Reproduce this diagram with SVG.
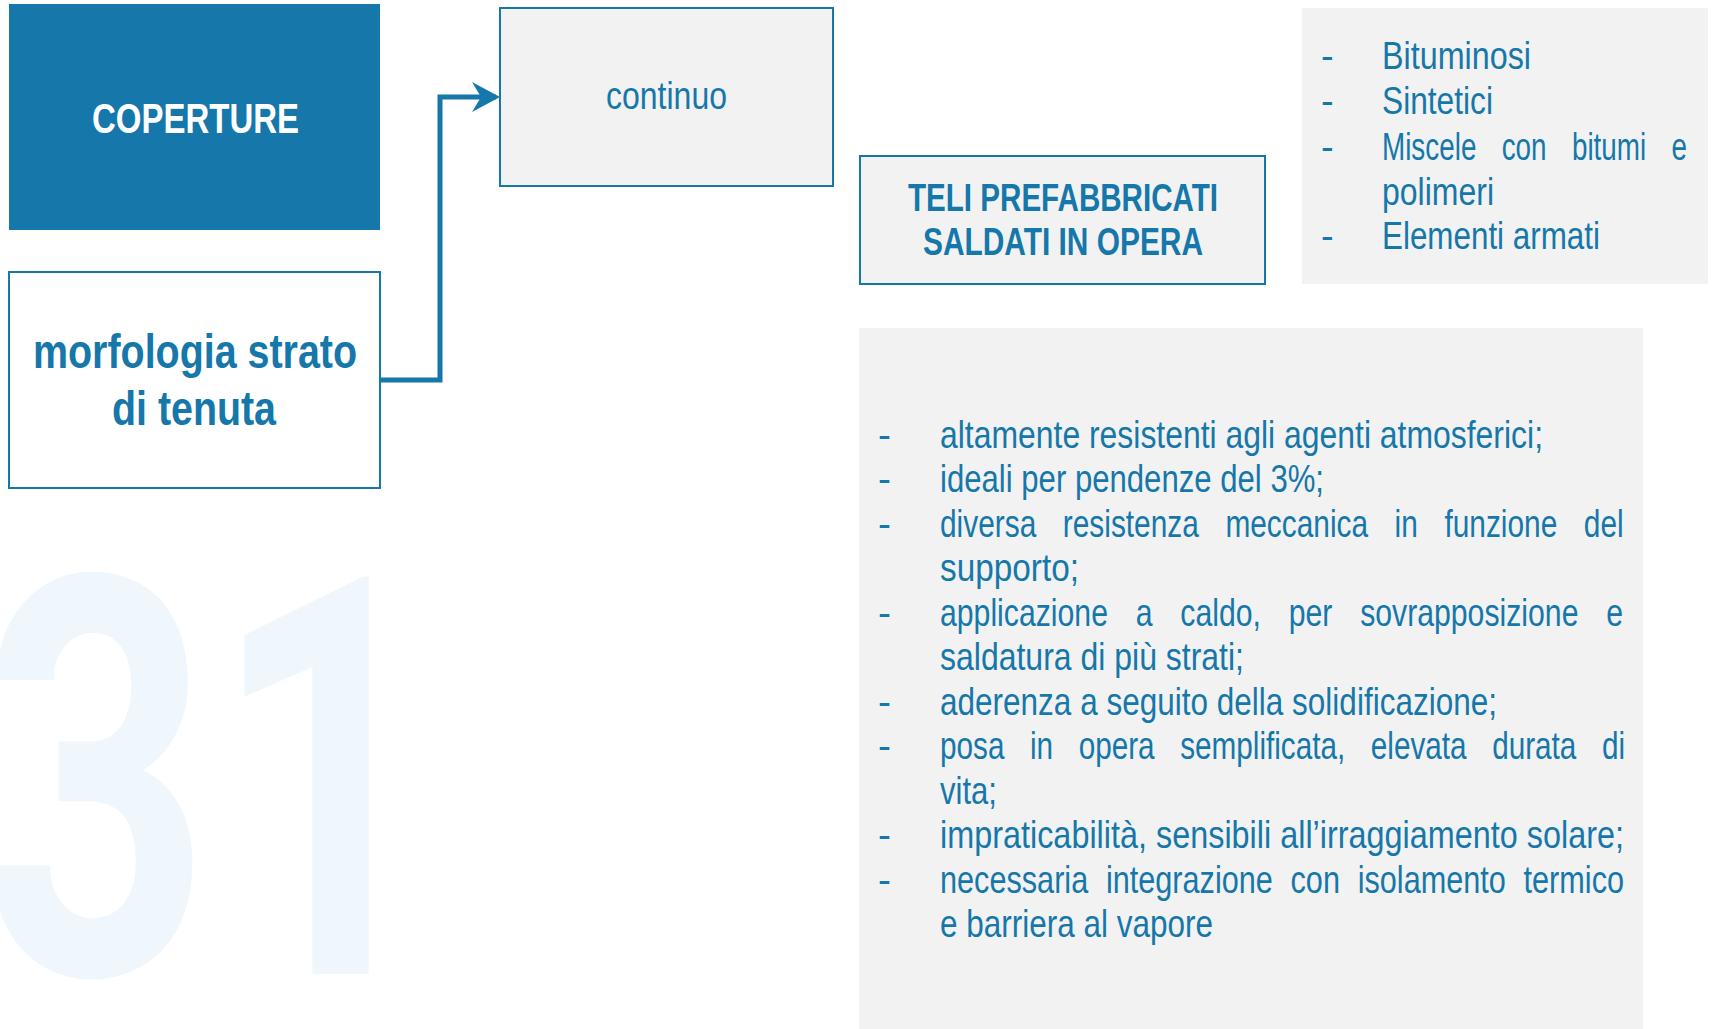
<svg xmlns="http://www.w3.org/2000/svg" width="1712" height="1029" viewBox="0 0 1712 1029">
  <style>
    .bg { fill: #ffffff; }
    .blue { fill: #1577AA; }
    .gray { fill: #F2F2F2; }
    .outl { stroke: #1577AA; stroke-width: 2; }
    .t { font-family: "Liberation Sans", Arial, sans-serif; fill: #1577AA; font-variant-ligatures: none; }
    .b { font-weight: bold; }
    .body { font-size: 39px; }
    .side { font-size: 38px; }
    .conn { fill: none; stroke: #1577AA; stroke-width: 5; }
    .wm { font-family: Roboto, "Liberation Sans", sans-serif; font-weight: bold; font-size: 558px; fill: #F0F7FC; }
  </style>
  <defs>
    <marker id="arrow" markerUnits="userSpaceOnUse" markerWidth="30" markerHeight="32" viewBox="0 0 30 32" refX="24" refY="15" orient="auto">
      <path d="M0,0 L28,15 L0,30 L9,15 Z" fill="#1577AA"/>
    </marker>
  </defs>
  <rect class="bg" x="0" y="0" width="1712" height="1029"/>

  <text class="wm" transform="translate(-19,974) scale(0.72,1)" x="0" y="0">31</text>

  <g id="node-coperture">
    <rect class="blue" x="9" y="4" width="371" height="226"/>
    <text class="t b" x="92" y="133" font-size="43" style="fill:#ffffff" textLength="207" lengthAdjust="spacingAndGlyphs">COPERTURE</text>
  </g>

  <g id="node-morfologia">
    <rect x="9" y="272" width="371" height="216" fill="#ffffff" class="outl"/>
    <text class="t b" x="33" y="368" font-size="48" textLength="324" lengthAdjust="spacingAndGlyphs">morfologia strato</text>
    <text class="t b" x="112" y="425" font-size="48" textLength="164" lengthAdjust="spacingAndGlyphs">di tenuta</text>
  </g>

  <g id="node-continuo">
    <rect class="gray outl" x="500" y="8" width="333" height="178"/>
    <text class="t" x="606" y="109" font-size="39" textLength="121" lengthAdjust="spacingAndGlyphs">continuo</text>
  </g>

  <g id="node-teli">
    <rect class="gray outl" x="860" y="156" width="405" height="128" stroke-width="2.5"/>
    <text class="t b" x="908" y="211" font-size="39" textLength="310" lengthAdjust="spacingAndGlyphs">TELI PREFABBRICATI</text>
    <text class="t b" x="923" y="255" font-size="39" textLength="280" lengthAdjust="spacingAndGlyphs">SALDATI IN OPERA</text>
  </g>

  <g id="node-tipi">
    <rect class="gray" x="1302" y="8" width="406" height="276"/>
    <text class="t side" x="1321" y="69">-</text>
    <text class="t side" x="1382" y="69" textLength="149" lengthAdjust="spacingAndGlyphs">Bituminosi</text>
    <text class="t side" x="1321" y="114">-</text>
    <text class="t side" x="1382" y="114" textLength="111" lengthAdjust="spacingAndGlyphs">Sintetici</text>
    <text class="t side" x="1321" y="160">-</text>
    <text class="t side" transform="translate(1382,160) scale(0.733,1)" x="0" y="0" word-spacing="24">Miscele con bitumi e</text>
    <text class="t side" x="1382" y="205" textLength="112" lengthAdjust="spacingAndGlyphs">polimeri</text>
    <text class="t side" x="1321" y="249">-</text>
    <text class="t side" x="1382" y="249" textLength="218" lengthAdjust="spacingAndGlyphs">Elementi armati</text>
  </g>

  <g id="node-caratteristiche">
    <rect class="gray" x="859" y="328" width="784" height="701"/>
    <text class="t body" x="878" y="447.5">-</text>
    <text class="t body" x="940" y="447.5" textLength="603" lengthAdjust="spacingAndGlyphs">altamente resistenti agli agenti atmosferici;</text>
    <text class="t body" x="878" y="492">-</text>
    <text class="t body" x="940" y="492" textLength="384" lengthAdjust="spacingAndGlyphs">ideali per pendenze del 3%;</text>
    <text class="t body" x="878" y="536.5">-</text>
    <text class="t body" transform="translate(940,536.5) scale(0.766,1)" x="0" y="0" word-spacing="23.8">diversa resistenza meccanica in funzione del</text>
    <text class="t body" x="940" y="581" textLength="139" lengthAdjust="spacingAndGlyphs">supporto;</text>
    <text class="t body" x="878" y="625.5">-</text>
    <text class="t body" transform="translate(940,625.5) scale(0.775,1)" x="0" y="0" word-spacing="25">applicazione a caldo, per sovrapposizione e</text>
    <text class="t body" x="940" y="670" textLength="304" lengthAdjust="spacingAndGlyphs">saldatura di più strati;</text>
    <text class="t body" x="878" y="714.5">-</text>
    <text class="t body" x="940" y="714.5" textLength="557" lengthAdjust="spacingAndGlyphs">aderenza a seguito della solidificazione;</text>
    <text class="t body" x="878" y="759">-</text>
    <text class="t body" transform="translate(940,759) scale(0.762,1)" x="0" y="0" word-spacing="22.7">posa in opera semplificata, elevata durata di</text>
    <text class="t body" x="940" y="803.5" textLength="57" lengthAdjust="spacingAndGlyphs">vita;</text>
    <text class="t body" x="878" y="848">-</text>
    <text class="t body" x="940" y="848" textLength="684" lengthAdjust="spacingAndGlyphs">impraticabilità, sensibili all’irraggiamento solare;</text>
    <text class="t body" x="878" y="892.5">-</text>
    <text class="t body" transform="translate(940,892.5) scale(0.786,1)" x="0" y="0" word-spacing="11.7">necessaria integrazione con isolamento termico</text>
    <text class="t body" x="940" y="937" textLength="273" lengthAdjust="spacingAndGlyphs">e barriera al vapore</text>
  </g>

  <g id="connectors">
    <path class="conn" d="M380,380 H440 V97 H496" marker-end="url(#arrow)"/>
  </g>
</svg>
